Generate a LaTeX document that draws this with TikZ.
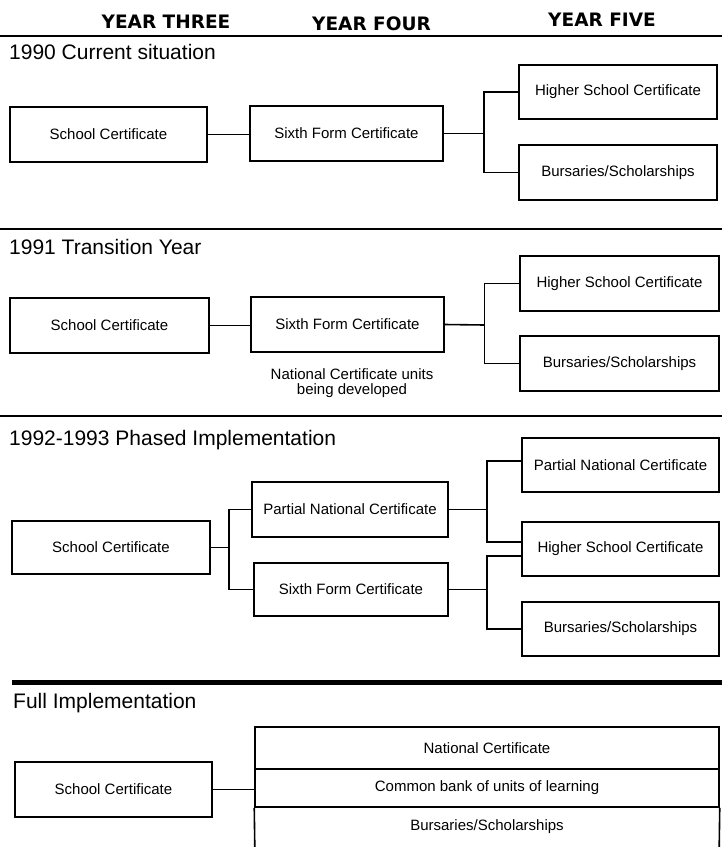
\documentclass[tikz,border=0pt]{standalone}
\usepackage{fontspec}
\setmainfont{Liberation Sans}
\newfontfamily\hdrfont{DejaVu Sans}
\begin{document}
\begin{tikzpicture}[x=1pt,y=-1pt,
  box/.style={draw,line width=1.5pt,inner sep=0pt,align=center,font=\fontsize{15}{18}\selectfont},
  cell/.style={inner sep=0pt,align=center,font=\fontsize{15}{18}\selectfont},
  conn/.style={line width=1.6pt},
  rule/.style={line width=1.5pt},
  hdr/.style={inner sep=0pt,font=\hdrfont\bfseries\fontsize{18.5}{20}\selectfont},
  ttl/.style={inner sep=0pt,anchor=west,font=\fontsize{21}{24}\selectfont},
  note/.style={inner sep=0pt,align=center,font=\fontsize{15}{15}\selectfont}]
\useasboundingbox (0,0) rectangle (722,847);
% header
\node[hdr] (h3) at (166,21.5) {YEAR THREE};
\node[hdr] (h4) at (371.5,24) {YEAR FOUR};
\node[hdr] (h5) at (602,20) {YEAR FIVE};
\draw[rule] (0,36) -- (722,36);
% ---------- section 1
\node[ttl] (t1) at (9,52) {1990 Current situation};
\node[box,minimum width=197,minimum height=55] (s1sc) at (108.5,134.5) {School Certificate};
\node[box,minimum width=193,minimum height=55] (s1sf) at (346.5,133.5) {Sixth Form Certificate};
\node[box,minimum width=198,minimum height=54] (s1hsc) at (618,92) {Higher School Certificate};
\node[box,minimum width=198,minimum height=55] (s1bs) at (618,172.5) {Bursaries/Scholarships};
\coordinate (b1) at (484,133.5);
\draw[conn] (s1sc.east) -- (s1sc.east -| s1sf.west);
\draw[conn] (s1sf.east) -- (b1);
\draw[conn] (s1hsc.west) -| (b1) |- (s1bs.west);
\draw[rule] (0,229) -- (722,229);
% ---------- section 2
\node[ttl] (t2) at (9,246.5) {1991 Transition Year};
\node[box,minimum width=199,minimum height=55] (s2sc) at (109.5,325.5) {School Certificate};
\node[box,minimum width=193,minimum height=55] (s2sf) at (347.5,324.5) {Sixth Form Certificate};
\node[box,minimum width=199,minimum height=55] (s2hsc) at (619.5,283.5) {Higher School Certificate};
\node[box,minimum width=199,minimum height=55] (s2bs) at (619.5,363.5) {Bursaries/Scholarships};
\node[note] (s2note) at (352,383) {National Certificate units\\being developed};
\coordinate (b2) at (484.5,325);
\draw[conn] (s2sc.east) -- (s2sc.east -| s2sf.west);
\draw[conn] (s2sf.east) -- (b2);
\draw[conn] (s2hsc.west) -| (b2) |- (s2bs.west);
\draw[rule] (0,416) -- (722,416);
% ---------- section 3
\node[ttl] (t3) at (9,440.5) {1992-1993 Phased Implementation};
\node[box,minimum width=198,minimum height=53] (s3sc) at (111,547.5) {School Certificate};
\node[box,minimum width=196,minimum height=55] (s3pnc4) at (350,509.5) {Partial National Certificate};
\node[box,minimum width=194,minimum height=53] (s3sf4) at (351,589.5) {Sixth Form Certificate};
\node[box,minimum width=197,minimum height=54] (s3pnc5) at (620.5,465) {Partial National Certificate};
\node[box,minimum width=197,minimum height=54] (s3hsc5) at (620.5,549) {Higher School Certificate};
\node[box,minimum width=197,minimum height=54] (s3bs5) at (620.5,629) {Bursaries/Scholarships};
\coordinate (a3) at (229,547.5);
\draw[conn] (s3sc.east) -- (a3);
\draw[conn] (s3pnc4.west) -| (a3) |- (s3sf4.west);
\coordinate (b3t) at (487,461);
\coordinate (b3b) at (487,542);
\draw[conn] (s3pnc4.east) -- (s3pnc4.east -| b3t);
\draw[conn] (b3t -| s3pnc5.west) -- (b3t) -- (b3b) -- (b3b -| s3hsc5.west);
\coordinate (b4t) at (487,556);
\coordinate (b4b) at (487,629);
\draw[conn] (s3sf4.east) -- (s3sf4.east -| b4t);
\draw[conn] (b4t -| s3hsc5.west) -- (b4t) -- (b4b) -- (s3bs5.west);
\draw[line width=5pt] (12,682.5) -- (722,682.5);
% ---------- section 4
\node[ttl] (t4) at (13,703) {Full Implementation};
\node[box,minimum width=197,minimum height=55] (s4sc) at (113.5,789.5) {School Certificate};
\node[box,minimum width=464,minimum height=42] (s4nc) at (487,748) {National Certificate};
\node[box,minimum width=464,minimum height=38] (s4cb) at (487,788) {Common bank of units of learning};
\node[cell,minimum width=464,minimum height=40] (s4bs) at (487,827) {Bursaries/Scholarships};
\draw[conn] (s4bs.south west) -- (s4cb.south west);
\draw[conn] (s4bs.south east) -- (s4cb.south east);
\draw[conn] (s4sc.east) -- (s4sc.east -| s4cb.west);
\end{tikzpicture}
\end{document}
